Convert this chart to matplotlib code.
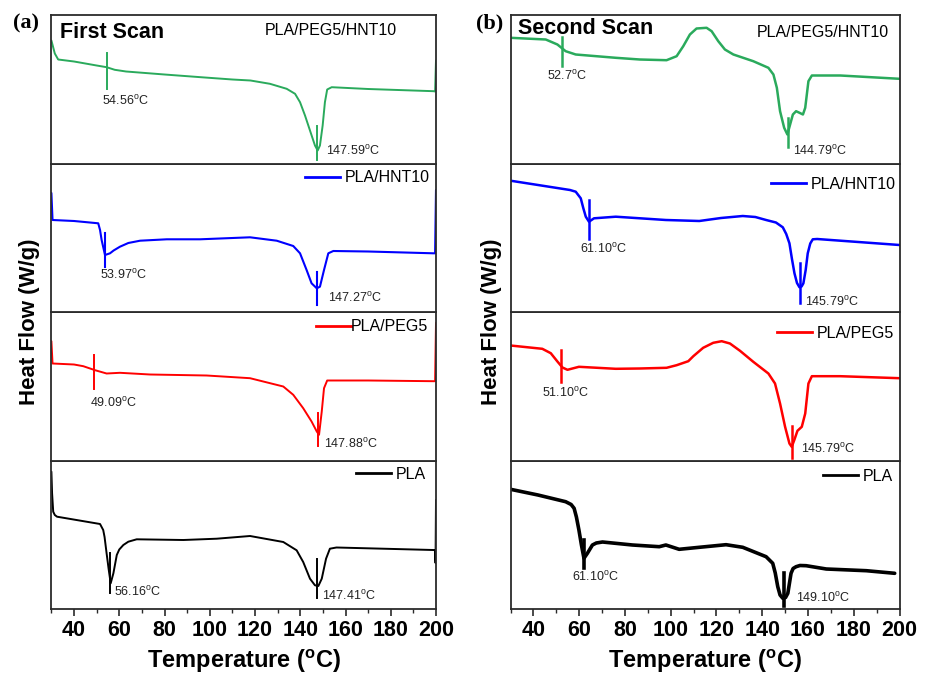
import matplotlib
matplotlib.use("Agg")
import matplotlib.pyplot as plt
from matplotlib.lines import Line2D

plt.rcParams['font.family'] = ['Liberation Sans', 'DejaVu Sans']
plt.rcParams['mathtext.fontset'] = 'custom'
plt.rcParams['mathtext.rm'] = 'Liberation Sans'
plt.rcParams['mathtext.bf'] = 'Liberation Sans:bold'
plt.rcParams['mathtext.default'] = 'regular'

# ---------------- data (heat flow in arbitrary units) ----------------
series_names = ["PLA/PEG5/HNT10", "PLA/HNT10", "PLA/PEG5", "PLA"]
series_colors = ["#2aaa5c", "#0000ff", "#ff0000", "#000000"]

# First scan
a_green_T = [30, 31.5, 33, 40, 50, 54.4, 58, 63, 80, 96, 110, 118, 126.6, 134, 137.7, 139.9, 142.1, 144.3, 146.5, 147.7, 148.7, 149.9, 150.9, 151.9, 153.9, 170, 199, 199.6, 200]
a_green_y = [123, 110, 104, 102, 98, 96.3, 93.7, 92, 89, 86.3, 84, 83, 79.7, 74.7, 69.7, 61.3, 48, 33, 18, 13, 18, 38, 61.3, 74, 76.3, 74.5, 72.3, 72, 103]

a_blue_T = [30, 30.5, 40, 50.7, 51.5, 52.2, 53.7, 55.9, 57.5, 60.3, 64, 69.2, 81, 95.7, 117.8, 129.6, 136.9, 139.9, 142.8, 145, 147.3, 148.7, 150.5, 152.4, 154.6, 170, 198.8, 199.6, 200]
a_blue_y = [119, 92, 91, 88.7, 82, 72, 57, 58.7, 61.5, 65.3, 69, 71.3, 72.7, 72.7, 74.7, 71.3, 66, 58.7, 42, 28.7, 23.7, 25.3, 42, 58.7, 61, 60.5, 58.7, 58.7, 122]

a_red_T = [30, 30.5, 40, 44.1, 49.3, 54.4, 60.3, 73.6, 98.6, 117.8, 132.5, 136.9, 141.3, 145, 147.3, 148.3, 149.5, 150.5, 151.9, 170, 198.8, 199.6, 200]
a_red_y = [119.3, 97, 96, 94.3, 90.3, 87, 87.7, 86, 85, 82.3, 74, 65.7, 52.3, 39, 29, 25.7, 49, 72.3, 80, 80, 79.3, 79.3, 137.7]

a_black_T = [30, 30.3, 30.8, 31.5, 32.5, 51.5, 52.9, 53.5, 54.4, 55.3, 56.2, 57.4, 58.9, 60, 61.8, 64, 67.7, 88.3, 103.1, 117.8, 132.5, 138.4, 141.3, 144.3, 146.5, 148, 149.5, 151.4, 153.1, 156, 198.8, 199.5, 199.8, 200]
a_black_y = [137.3, 115.7, 97.3, 94, 92.3, 85, 79, 72, 55.7, 40, 25.7, 35.7, 54, 59.5, 64, 67.3, 69.7, 69, 70.3, 73, 67, 58.7, 47, 30.3, 23.7, 23, 30.3, 50.3, 60.3, 61.5, 59, 59, 46, 109]

# Second scan
b_green_T = [30, 45.4, 50.5, 54.1, 58.5, 76, 86.5, 98.2, 102.6, 105.5, 108.4, 111.3, 115.7, 117.9, 120.8, 123.7, 127.4, 136.1, 142.7, 144.9, 146.4, 147.8, 149.6, 151, 152.2, 153.4, 154.8, 156.3, 157.8, 158.8, 160.2, 161.7, 174.1, 200]
b_green_y = [125.7, 124, 119, 112.3, 109, 105.7, 104, 103.3, 107.3, 117.3, 129, 135, 135.7, 132.3, 122.3, 114, 109, 102.3, 95.7, 89, 75.7, 52.3, 35.7, 29, 39, 49, 52.3, 50.7, 49, 55.7, 82.3, 88, 88, 84.7]

b_blue_T = [30, 56, 58.5, 60.7, 61.8, 62.9, 64.3, 66.5, 76, 97.9, 112.5, 122, 131.5, 137, 141.7, 146, 149, 150.5, 151.9, 153, 154.1, 155.2, 156.3, 157.2, 158, 159, 159.9, 161, 162.1, 164, 200]
b_blue_y = [131.3, 122, 120.3, 113.7, 104, 95.3, 90.3, 93.7, 95.3, 92, 91, 94, 96, 95, 92, 89.5, 84.7, 78, 68.7, 53, 38.7, 29, 24.7, 25.5, 28.7, 42, 58.7, 68.5, 72.7, 73, 67]

b_red_T = [30, 43.9, 47.6, 50.5, 52.7, 54.9, 59.9, 76, 86.5, 98.2, 102.6, 107.7, 109.9, 114.2, 118.6, 122.3, 125.9, 130.3, 136.1, 142.7, 145.6, 147.8, 150, 151.9, 152.9, 154, 155.4, 157.3, 158.8, 160.2, 161.7, 174.1, 200]
b_red_y = [115, 111.7, 107.3, 99, 93, 90.7, 93.7, 91.7, 92, 92.7, 95.3, 99.3, 104.3, 112.7, 117.7, 119.3, 117, 109.7, 98.7, 87, 77, 57, 33.7, 17, 13.7, 20.3, 29.7, 33.7, 47, 77, 84.3, 84.3, 82.3]

b_black_T = [30, 42, 54.1, 56.5, 57.8, 58.8, 59.9, 61, 62.1, 63.6, 65.8, 67.5, 70.2, 83.3, 95, 97.9, 103.7, 112.5, 124.2, 131.5, 141.7, 144.6, 145.7, 146.8, 147.8, 149, 150.2, 151.2, 152.6, 153.5, 154.8, 156.5, 159.2, 168, 185.5, 197.9]
b_black_y = [119.7, 114, 107.3, 104.5, 100.7, 92, 79, 64, 50.7, 55.7, 64, 66, 67, 64, 62.3, 64, 59.7, 61.7, 64.3, 61.7, 52.3, 45.7, 36, 22.3, 14, 10.7, 11.5, 15.7, 35.7, 40.5, 42.3, 43.5, 43.3, 40, 38.3, 35.7]

# transition markers: (marker T, y_top, y_bottom, label, label T, label y)
a_marks = [
    [(54.4, 110.3, 75.0, "54.56", 52.2, 63.0), (147.4, 38.0, 4.0, "147.59", 151.4, 13.0)],
    [(53.7, 78.7, 45.3, "53.97", 51.5, 36.7), (147.4, 40.3, 7.0, "147.27", 152.4, 14.0)],
    [(49.0, 106.0, 71.7, "49.09", 47.1, 57.7), (147.7, 47.7, 14.3, "147.88", 150.6, 16.3)],
    [(55.9, 56.3, 16.3, "56.16", 57.7, 16.7), (147.4, 49.7, 10.7, "147.41", 149.5, 13.3)],
]
b_marks = [
    [(52.4, 126.7, 97.3, "52.7", 46.1, 87.3), (151.2, 45.7, 16.3, "144.79", 153.4, 12.3)],
    [(64.3, 112.0, 72.7, "61.10", 60.4, 63.3), (156.7, 48.7, 9.3, "145.79", 158.9, 10.0)],
    [(52.2, 110.7, 79.0, "51.10", 43.9, 67.3), (153.1, 35.0, 3.0, "145.79", 157.0, 11.7)],
    [(62.1, 69.0, 40.7, "61.10", 57.0, 32.3), (149.6, 35.7, 3.0, "149.10", 154.8, 11.0)],
]

x_ticks = [40, 60, 80, 100, 120, 140, 160, 180, 200]

# ---------------- figure ----------------
fig = plt.figure(figsize=(9.32, 6.76), dpi=100)
W, H = 932.0, 676.0
top_px, bot_px = 15.0, 609.0
sub_h = (bot_px - top_px) / 4.0

panels = [
    dict(left=51.4, right=436.0, curves=[(a_green_T, a_green_y), (a_blue_T, a_blue_y), (a_red_T, a_red_y), (a_black_T, a_black_y)],
         marks=a_marks, lws=[1.4, 1.5, 1.4, 1.4], title="First Scan", title_xy=(60, 33), tag="(a)", tag_xy=(26, 23),
         leg=[(0.898, 0.896, False, 0.3), (0.984, 0.904, True, 0.3), (0.979, 0.901, True, -0.05), (0.974, 0.906, True, 0.3)],
         ylab_x=30),
    dict(left=510.5, right=899.5, curves=[(b_green_T, b_green_y), (b_blue_T, b_blue_y), (b_red_T, b_red_y), (b_black_T, b_black_y)],
         marks=b_marks, lws=[1.8, 1.8, 1.8, 2.6], title="Second Scan", title_xy=(518, 28), tag="(b)", tag_xy=(490, 23),
         leg=[(0.973, 0.879, False, 0.3), (0.991, 0.86, True, 0.3), (0.986, 0.857, True, 0.3), (0.984, 0.892, True, 0.3)],
         ylab_x=491),
]

spine_col = "#2b2b2b"
for p in panels:
    for i in range(4):
        y0 = bot_px - (i + 1) * sub_h
        idx = 3 - i
        ax = fig.add_axes([p["left"] / W, 1 - (y0 + sub_h) / H, (p["right"] - p["left"]) / W, sub_h / H])
        T, y = p["curves"][idx]
        col = series_colors[idx]
        ax.plot(T, y, color=col, lw=p["lws"][idx], solid_joinstyle='round', solid_capstyle='round')
        for (mx, yt, yb, lab, lx, ly) in p["marks"][idx]:
            ax.plot([mx, mx], [yb, yt], color=col, lw=p["lws"][idx])
            ax.text(lx, ly, lab + r"$^{o}$C", fontsize=9, color="#222222", va="center", ha="left")
        ax.set_xlim(30, 200)
        ax.set_ylim(0, sub_h)
        ax.set_yticks([])
        for s in ax.spines.values():
            s.set_color(spine_col)
            s.set_linewidth(1.3)
        lx_, ly_, handle, pad = p["leg"][idx]
        h = Line2D([], [], color=col, lw=2.0, visible=handle)
        ax.legend([h], [series_names[idx]], loc="center right", bbox_to_anchor=(lx_, ly_),
                  frameon=False, fontsize=11.5, borderpad=0, borderaxespad=0,
                  handlelength=2.2 if handle else 0, handletextpad=pad if handle else 0)
        if i == 0:
            ax.set_xticks(x_ticks)
            ax.set_xticks(range(30, 201, 10), minor=True)
            ax.tick_params(axis='x', which='major', direction='out', length=5, width=1.2, colors=spine_col,
                           labelsize=15.5, pad=3, labelcolor='black')
            ax.tick_params(axis='x', which='minor', direction='out', length=3, width=1.0, colors=spine_col)
            for t in ax.get_xticklabels():
                t.set_fontweight('bold')
            ax.set_xlabel(r"Temperature ($^{o}$C)", fontsize=17, fontweight='bold', labelpad=5)
        else:
            ax.set_xticks([])
    fig.text(p["title_xy"][0] / W, 1 - p["title_xy"][1] / H, p["title"], fontsize=15.5, fontweight='bold',
             ha='left', va='center')
    fig.text(p["tag_xy"][0] / W, 1 - p["tag_xy"][1] / H, p["tag"], fontsize=16, fontweight='bold',
             family=['Liberation Serif', 'DejaVu Serif'], ha='center', va='center')
    fig.text(p["ylab_x"] / W, 1 - 322 / H, "Heat Flow (W/g)", fontsize=16, fontweight='bold',
             rotation=90, ha='center', va='center')

fig.savefig("out.png", dpi=100)
